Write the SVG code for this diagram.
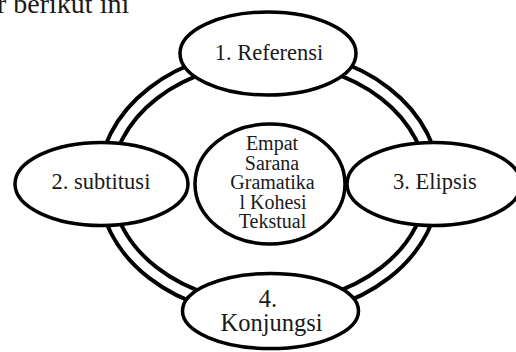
<svg xmlns="http://www.w3.org/2000/svg" width="516" height="352" viewBox="0 0 516 352">
<style>
  .node { fill: #ffffff; stroke: #000000; stroke-width: 3.5; }
  .lbl { font-family: 'Liberation Serif', 'Times New Roman', serif; fill: #1a1a1a; text-anchor: middle; }
  .top { font-family: 'Liberation Serif', 'Times New Roman', serif; fill: #1a1a1a; }
  .ring-outer { fill: none; stroke: #000000; stroke-width: 17; }
  .ring-inner { fill: none; stroke: #ffffff; stroke-width: 9; }
</style>
<rect x="0" y="0" width="516" height="352" fill="#ffffff"/>
<text class="top" x="-3" y="13" font-size="28">r berikut ini</text>
<g id="connectors">
  <ellipse class="ring-outer" cx="269" cy="183" rx="164" ry="127"/>
  <ellipse class="ring-inner" cx="269" cy="183" rx="164" ry="127"/>
</g>
<g id="node-referensi">
  <ellipse class="node" cx="268" cy="53.5" rx="88" ry="41.5"/>
  <text class="lbl" x="269" y="60" font-size="22.5">1. Referensi</text>
</g>
<g id="node-subtitusi">
  <ellipse class="node" cx="101.5" cy="184" rx="86.5" ry="41.5"/>
  <text class="lbl" x="101" y="189" font-size="22.5">2. subtitusi</text>
</g>
<g id="node-elipsis">
  <ellipse class="node" cx="434" cy="184" rx="87" ry="41.5"/>
  <text class="lbl" x="435" y="189" font-size="22.5">3. Elipsis</text>
</g>
<g id="node-center">
  <ellipse class="node" cx="270" cy="184" rx="75" ry="60"/>
  <text class="lbl" x="272" y="150" font-size="20">Empat</text>
  <text class="lbl" x="272" y="169.5" font-size="20">Sarana</text>
  <text class="lbl" x="272.5" y="189" font-size="20">Gramatika</text>
  <text class="lbl" x="273" y="208.5" font-size="20">l Kohesi</text>
  <text class="lbl" x="272.5" y="228" font-size="20">Tekstual</text>
</g>
<g id="node-konjungsi">
  <ellipse class="node" cx="270.5" cy="311" rx="88" ry="37.5"/>
  <text class="lbl" x="268" y="307" font-size="24.5">4.</text>
  <text class="lbl" x="271.5" y="331" font-size="24.5">Konjungsi</text>
</g>
</svg>
